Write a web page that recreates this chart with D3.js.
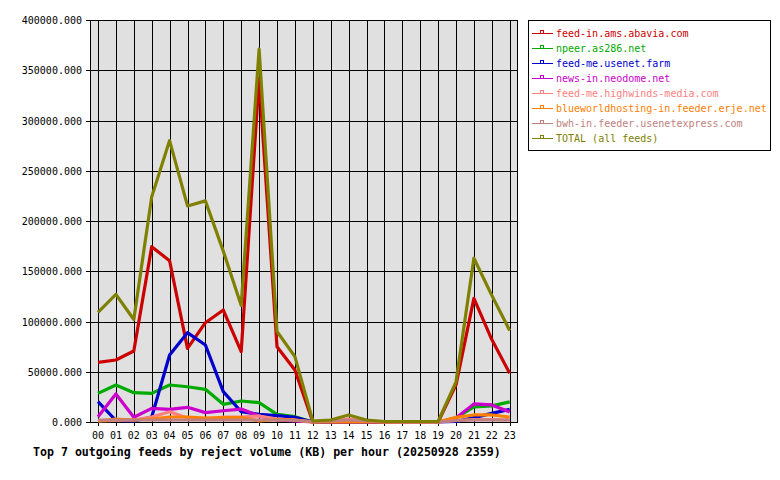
<!DOCTYPE html>
<html>
<head>
<meta charset="utf-8">
<script src="https://cdn.jsdelivr.net/npm/d3@7"></script>
<style>
  body { margin: 0; background: #fff; }
  text { font-family: "DejaVu Sans Mono", monospace; }
</style>
</head>
<body>
<div id="chart"></div>
<script>
// hours on the x axis
var hours = ["00","01","02","03","04","05","06","07","08","09","10","11",
             "12","13","14","15","16","17","18","19","20","21","22","23"];

var yTicks = [0, 50000, 100000, 150000, 200000, 250000, 300000, 350000, 400000];

var feedNames = [
    "feed-in.ams.abavia.com",
    "npeer.as286.net",
    "feed-me.usenet.farm",
    "news-in.neodome.net",
    "feed-me.highwinds-media.com",
    "blueworldhosting-in.feeder.erje.net",
    "bwh-in.feeder.usenetexpress.com",
    "TOTAL (all feeds)"
];
var feedColors = ["#cc0000", "#00aa00", "#0000cc", "#cc00cc", "#ff8080", "#ff8000", "#c08080", "#808000"];

// reject volume (KB) per hour
var abavia    = [59400, 61700, 70600, 174400, 160500, 73300, 98800, 111400, 70000, 342000, 74900, 51700,
                 0, 0, 0, 0, 0, 0, 0, 0, 37000, 123000, 82000, 48500];
var as286     = [28500, 36800, 29200, 28500, 36800, 35100, 32500, 17600, 20900, 19200, 7600, 5300,
                 0, 0, 0, 0, 0, 0, 0, 0, 4000, 15000, 16000, 20000];
var usenetFarm = [20200, 1500, 1000, 5000, 66700, 88900, 76600, 30200, 10200, 7600, 6300, 4700,
                 0, 0, 0, 0, 0, 0, 0, 0, 500, 4300, 8600, 12600];
var neodome   = [5300, 27900, 4700, 13600, 12600, 14600, 9300, 11200, 12900, 6000, 2000, 1000,
                 0, 0, 0, 0, 0, 0, 0, 0, 4000, 18000, 17000, 10000];
var highwinds = [1000, 1500, 2000, 5000, 10200, 4000, 3000, 5000, 5000, 6000, 3000, 2000,
                 0, 1000, 3000, 1000, 0, 0, 0, 0, 1500, 2500, 2500, 2000];
var erje      = [1000, 3000, 2000, 3000, 5000, 5000, 4000, 4500, 4500, 1000, 2500, 2000,
                 0, 0, 0, 0, 0, 0, 0, 0, 4600, 7000, 7000, 5000];
var usenetexpress = [2000, 2000, 2000, 2000, 2000, 2000, 2000, 2000, 2000, 2000, 2000, 1500,
                 500, 1000, 2000, 1000, 500, 0, 0, 0, 1500, 2000, 2000, 2000];
var total     = [109000, 127000, 102000, 224000, 280000, 215000, 220000, 170000, 116000, 371000, 90000, 65000,
                 1000, 2000, 7000, 2000, 500, 500, 500, 500, 40000, 163000, 126000, 91000];

var seriesValues = [abavia, as286, usenetFarm, neodome, highwinds, erje, usenetexpress, total];

var width = 780, height = 480;
var plotLeft = 90, plotRight = 518, plotTop = 20, plotBottom = 422;

var svg = d3.select("#chart").append("svg")
    .attr("width", width)
    .attr("height", height);

var xScale = d3.scaleLinear()
    .domain([0, hours.length - 1])
    .range([98, 509.7]);

var yScale = d3.scaleLinear()
    .domain([0, 400000])
    .range([plotBottom, plotTop]);

// plot background
svg.append("rect")
    .attr("x", plotLeft).attr("y", plotTop)
    .attr("width", plotRight - plotLeft).attr("height", plotBottom - plotTop)
    .attr("fill", "#e0e0e0");

// grid
var grid = svg.append("g").attr("shape-rendering", "crispEdges");
grid.selectAll(".vgrid")
    .data(hours)
    .enter()
    .append("line")
    .attr("x1", (d, i) => Math.round(xScale(i)) + 0.5)
    .attr("x2", (d, i) => Math.round(xScale(i)) + 0.5)
    .attr("y1", plotTop).attr("y2", plotBottom + 4)
    .attr("stroke", "#000");
grid.selectAll(".hgrid")
    .data(yTicks)
    .enter()
    .append("line")
    .attr("x1", plotLeft - 4).attr("x2", plotRight)
    .attr("y1", d => Math.round(yScale(d)) + 0.5)
    .attr("y2", d => Math.round(yScale(d)) + 0.5)
    .attr("stroke", "#000");

// border
svg.append("rect")
    .attr("x", plotLeft + 0.5).attr("y", plotTop + 0.5)
    .attr("width", plotRight - plotLeft - 1).attr("height", plotBottom - plotTop)
    .attr("fill", "none")
    .attr("stroke", "#000")
    .attr("shape-rendering", "crispEdges");

// y labels
svg.selectAll(".ylab")
    .data(yTicks)
    .enter()
    .append("text")
    .attr("x", 82)
    .attr("y", d => yScale(d) + 4)
    .attr("text-anchor", "end")
    .attr("font-size", "10px")
    .text(d => d.toFixed(3));

// x labels
svg.selectAll(".xlab")
    .data(hours)
    .enter()
    .append("text")
    .attr("x", (d, i) => xScale(i))
    .attr("y", 439)
    .attr("text-anchor", "middle")
    .attr("font-size", "10px")
    .text(d => d);

// lines
var line = d3.line()
    .x((d, i) => xScale(i))
    .y(d => yScale(d));

svg.append("g")
    .selectAll("path")
    .data(seriesValues)
    .enter()
    .append("path")
    .attr("d", d => line(d))
    .attr("fill", "none")
    .attr("stroke", (d, i) => feedColors[i])
    .attr("stroke-width", 3.2)
    .attr("stroke-linejoin", "round");

// legend
svg.append("rect")
    .attr("x", 528.5).attr("y", 20.5)
    .attr("width", 242).attr("height", 130)
    .attr("fill", "#fff")
    .attr("stroke", "#000")
    .attr("shape-rendering", "crispEdges");

var legend = svg.append("g")
    .selectAll("g")
    .data(feedNames)
    .enter()
    .append("g")
    .attr("transform", (d, i) => "translate(0," + (33 + i * 15) + ")");

legend.append("line")
    .attr("x1", 532).attr("x2", 553)
    .attr("y1", 0.5).attr("y2", 0.5)
    .attr("stroke", (d, i) => feedColors[i])
    .attr("stroke-width", 1)
    .attr("shape-rendering", "crispEdges");
legend.append("rect")
    .attr("x", 540.5).attr("y", -2.5)
    .attr("width", 3).attr("height", 3)
    .attr("fill", "#fff")
    .attr("stroke", (d, i) => feedColors[i])
    .attr("shape-rendering", "crispEdges");
legend.append("text")
    .attr("x", 556)
    .attr("y", 4)
    .attr("font-size", "10px")
    .attr("fill", (d, i) => feedColors[i])
    .text(d => d);

// title
svg.append("text")
    .attr("x", 33)
    .attr("y", 456)
    .attr("font-size", "11.6px")
    .attr("font-weight", "bold")
    .text("Top 7 outgoing feeds by reject volume (KB) per hour (20250928 2359)");
</script>
</body>
</html>
